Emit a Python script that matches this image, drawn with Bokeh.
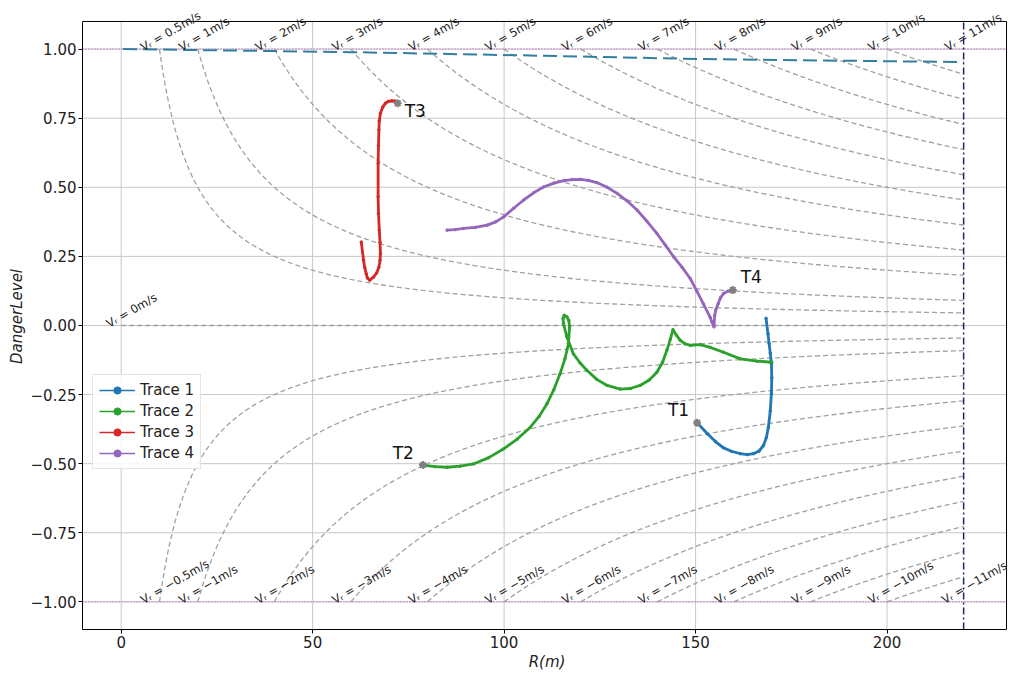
import numpy as np
from bokeh.plotting import figure
from bokeh.models import (FixedTicker, Legend, LegendItem, CustomJSTickFormatter)
from bokeh.core.properties import value
from bokeh.embed import file_html
from bokeh.resources import INLINE

FONT = "DejaVu Sans"

# ---- data ----
vr_pos = [0.5, 1, 2, 3, 4, 5, 6, 7, 8, 9, 10, 11]
vr_neg = [-0.5, -1, -2, -3, -4, -5, -6, -7, -8, -9, -10, -11]
vr_pos_labels = ["0.5", "1", "2", "3", "4", "5", "6", "7", "8", "9", "10", "11"]
vr_neg_labels = ["\u22120.5", "\u22121", "\u22122", "\u22123", "\u22124", "\u22125",
                 "\u22126", "\u22127", "\u22128", "\u22129", "\u221210", "\u221211"]
K_DANGER = 20.0      # danger level = K * V_R / R
R_LIMIT = 220.0
DL_LIMITS = [1.0, -1.0]

x_ticks = [0, 50, 100, 150, 200]
y_ticks = [-1, -0.75, -0.5, -0.25, 0, 0.25, 0.5, 0.75, 1]

top_r = [0.5, 34, 60, 110, 151, 220]
top_dl = [1.0, 0.994, 0.989, 0.976, 0.964, 0.953]

t1_r = [150.4, 153.1, 155.2, 157.2, 159.5, 161.7, 163.5, 165.1, 166.6, 167.7, 168.5, 169.0,
        169.5, 169.8, 169.9, 169.8, 169.5, 169.2, 168.9, 168.4]
t1_dl = [-0.352, -0.392, -0.420, -0.442, -0.456, -0.464, -0.467, -0.464, -0.454, -0.435, -0.405,
         -0.369, -0.310, -0.246, -0.190, -0.137, -0.100, -0.065, -0.030, 0.026]

t2_r = [78.8, 82.0, 85.1, 88.5, 92.0, 96.0, 99.8, 103.5, 106.8, 109.2, 111.2, 113.0, 114.6,
        115.9, 116.8, 117.1, 116.9, 116.4, 115.7, 115.4, 115.5, 116.4, 118.1, 119.8, 121.6,
        124.2, 126.9, 130.3, 133.0, 135.5, 137.9, 139.9, 141.4, 142.5, 143.4, 144.1, 145.0,
        146.0, 147.2, 148.6, 151.2, 153.8, 157.3, 161.7, 166.0, 169.9]
t2_dl = [-0.505, -0.511, -0.513, -0.509, -0.501, -0.478, -0.447, -0.410, -0.369, -0.328, -0.283,
         -0.232, -0.175, -0.120, -0.066, -0.005, 0.018, 0.031, 0.037, 0.025, 0.007, -0.042,
         -0.103, -0.135, -0.162, -0.195, -0.217, -0.230, -0.228, -0.217, -0.197, -0.169,
         -0.132, -0.090, -0.050, -0.015, -0.035, -0.054, -0.066, -0.072, -0.069, -0.079,
         -0.097, -0.121, -0.129, -0.133]

t3_r = [72.2, 71.5, 70.7, 69.8, 69.0, 68.3, 67.7, 67.4, 67.3, 67.2, 67.1, 67.1, 67.2, 67.4,
        67.6, 67.7, 67.6, 67.3, 66.7, 65.9, 64.9, 64.3, 64.0, 63.6, 63.3, 62.7]
t3_dl = [0.804, 0.812, 0.813, 0.811, 0.804, 0.790, 0.768, 0.740, 0.708, 0.650, 0.586, 0.466,
         0.405, 0.345, 0.300, 0.260, 0.235, 0.211, 0.190, 0.175, 0.164, 0.172, 0.187, 0.210,
         0.236, 0.302]

t4_r = [159.7, 158.4, 157.3, 156.5, 155.9, 155.3, 155.0, 154.8, 154.3, 153.8, 152.0, 150.3,
        148.6, 146.5, 144.3, 142.1, 139.9, 137.3, 134.7, 132.1, 129.5, 126.9, 124.2, 122.0,
        119.9, 117.8, 115.6, 113.0, 110.3, 107.7, 105.1, 102.5, 99.9, 97.8, 95.6, 92.5,
        89.4, 87.2, 85.1]
t4_dl = [0.128, 0.124, 0.116, 0.100, 0.079, 0.058, 0.037, -0.005, 0.012, 0.030, 0.079, 0.125,
         0.170, 0.210, 0.248, 0.291, 0.333, 0.377, 0.418, 0.451, 0.478, 0.500, 0.517, 0.525,
         0.529, 0.528, 0.524, 0.515, 0.501, 0.480, 0.454, 0.424, 0.393, 0.375, 0.363, 0.355,
         0.351, 0.347, 0.345]

trace_names = ["Trace 1", "Trace 2", "Trace 3", "Trace 4"]
trace_colors = ["#1f77b4", "#2ca02c", "#d62728", "#9467bd"]

# axes box (the Bokeh frame is a little larger so the rotated labels are not clipped)
BOX_X = (-10.1, 231.2)
BOX_Y = (-1.1, 1.1)

# ---- figure ----
p = figure(width=1011, height=673, x_range=(-10.1, 232.5), y_range=(-1.1, 1.165),
           output_backend="svg", toolbar_location=None,
           min_border_left=82, min_border_right=0, min_border_top=3, min_border_bottom=20)
p.background_fill_color = "white"
p.outline_line_color = None
p.xgrid.visible = False
p.ygrid.visible = False

p.xaxis.ticker = FixedTicker(ticks=x_ticks)
p.yaxis.ticker = FixedTicker(ticks=y_ticks)
p.xaxis.bounds = BOX_X
p.yaxis.bounds = BOX_Y
p.yaxis.formatter = CustomJSTickFormatter(code="return tick.toFixed(2).replace('-', '\u2212');")
for ax in (p.xaxis, p.yaxis):
    ax.major_label_text_font = FONT
    ax.major_label_text_font_size = "15px"
    ax.major_label_text_color = "#222222"
    ax.axis_label_text_font = FONT
    ax.axis_label_text_font_size = "15px"
    ax.axis_label_text_font_style = "italic"
    ax.axis_label_text_color = "#222222"
    ax.minor_tick_line_color = None
    ax.major_tick_in = 0
    ax.major_tick_out = 4
    ax.major_tick_line_color = "black"
    ax.axis_line_color = "black"
    ax.major_label_standoff = 2
    ax.axis_label_standoff = 2
p.xaxis.axis_label = "R(m)"
p.yaxis.axis_label = "DangerLevel"

# grid lines inside the box
grid_color = "#c8c8c8"
p.segment(x0=x_ticks, y0=[BOX_Y[0]] * len(x_ticks), x1=x_ticks, y1=[BOX_Y[1]] * len(x_ticks),
          line_color=grid_color, line_width=1)
p.segment(x0=[BOX_X[0]] * len(y_ticks), y0=y_ticks, x1=[BOX_X[1]] * len(y_ticks), y1=y_ticks,
          line_color=grid_color, line_width=1)

# constant-V_R guide curves
curve_color = "#a0a0a0"
for v in vr_pos + vr_neg:
    r0 = abs(K_DANGER * v)
    rr = np.linspace(r0, R_LIMIT, 300)
    p.line(rr, K_DANGER * v / rr, line_color=curve_color, line_width=1.3, line_dash="5 3")
p.line([0, R_LIMIT], [0, 0], line_color=curve_color, line_width=1.3, line_dash="5 3")

# limits
for lim in DL_LIMITS:
    p.line(list(BOX_X), [lim, lim], line_color="#c070c8", line_width=1.5, line_dash="1 2")
p.line([R_LIMIT, R_LIMIT], list(BOX_Y), line_color="#22226e", line_width=1.5,
       line_dash="7 3 2 3")

p.line(top_r, top_dl, line_color="#2f7fa0", line_width=2, line_dash="14 6")

# box top and right edges
p.line([BOX_X[0], BOX_X[1], BOX_X[1]], [BOX_Y[1], BOX_Y[1], BOX_Y[0]], line_color="black",
       line_width=1)

# labels of guide curves
lbl_x = [K_DANGER * v for v in vr_pos] + [K_DANGER * abs(v) for v in vr_neg] + [0.0]
lbl_y = [DL_LIMITS[0]] * len(vr_pos) + [DL_LIMITS[1]] * len(vr_neg) + [0.0]
lbl_t = (["V\u1d63 = " + s + "m/s" for s in vr_pos_labels]
         + ["V\u1d63 = " + s + "m/s" for s in vr_neg_labels] + ["V\u1d63 = 0m/s"])
lbl_dx = [-18] * (len(vr_pos) + len(vr_neg) - 1) + [-21, -14]
p.text(x=lbl_x, y=lbl_y, text=lbl_t, x_offset=lbl_dx, y_offset=-1, angle=30,
       angle_units="deg", text_font=value(FONT), text_font_size="11.5px",
       text_color="#222222", text_align="left", text_baseline="alphabetic")

# traces
data = [(t1_r, t1_dl), (t2_r, t2_dl), (t3_r, t3_dl), (t4_r, t4_dl)]
items = []
for (rr, dl), name, col in zip(data, trace_names, trace_colors):
    p.line(rr, dl, line_color=col, line_width=2.8)
    p.scatter(rr, dl, marker="circle", size=2.5, fill_color=col, line_color=col)
    lg_line = p.line([np.nan], [np.nan], line_color=col, line_width=1.5)
    lg_dot = p.scatter([np.nan], [np.nan], marker="circle", size=3.5, fill_color=col,
                       line_color=col)
    items.append(LegendItem(label=name, renderers=[lg_line, lg_dot]))

p.scatter([d[0][0] for d in data], [d[1][0] for d in data], marker="asterisk", size=8,
          line_color="#808080", line_width=2)

tag_kw = dict(text_font=value(FONT), text_font_size="17px", text_color="#111111")
p.text([t1_r[0]], [t1_dl[0]], text=["T1"], text_align="right", text_baseline="bottom",
       x_offset=-8, y_offset=-3, **tag_kw)
p.text([t2_r[0]], [t2_dl[0]], text=["T2"], text_align="right", text_baseline="bottom",
       x_offset=-9, y_offset=-2, **tag_kw)
p.text([t3_r[0]], [t3_dl[0]], text=["T3"], text_align="left", text_baseline="middle",
       x_offset=7, y_offset=8, **tag_kw)
p.text([t4_r[0]], [t4_dl[0]], text=["T4"], text_align="left", text_baseline="bottom",
       x_offset=8, y_offset=-3, **tag_kw)

legend = Legend(items=items, location=(10, 160))
legend.label_text_font = FONT
legend.label_text_font_size = "15px"
legend.label_text_color = "#222222"
legend.glyph_width = 36
legend.glyph_height = 18
legend.label_height = 18
legend.spacing = 3
legend.padding = 6
legend.margin = 0
legend.border_line_color = "#cccccc"
legend.border_line_width = 1
legend.background_fill_alpha = 0.85
p.add_layout(legend)

open("out.html", "w").write(file_html(p, INLINE))
